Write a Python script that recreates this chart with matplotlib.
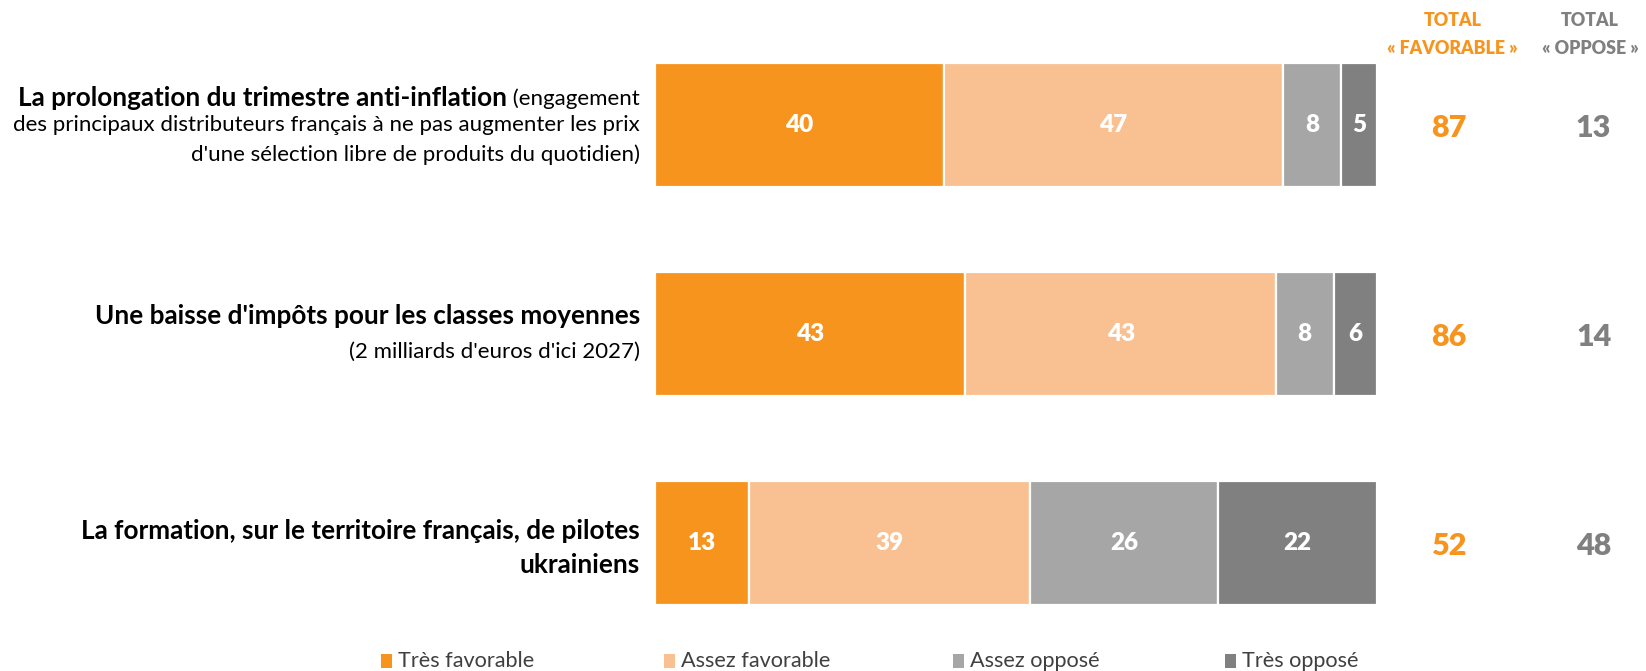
import matplotlib
matplotlib.use("Agg")
import matplotlib.pyplot as plt
from matplotlib.patches import Rectangle
from matplotlib.transforms import offset_copy

plt.rcParams['font.family'] = ['Lato', 'DejaVu Sans']

# ---- data ----
categories = [
    "La prolongation du trimestre anti-inflation",
    "Une baisse d'impôts pour les classes moyennes",
    "La formation, sur le territoire français, de pilotes ukrainiens",
]
series_names = ["Très favorable", "Assez favorable", "Assez opposé", "Très opposé"]
tres_favorable = [40, 43, 13]
assez_favorable = [47, 43, 39]
assez_oppose = [8, 8, 26]
tres_oppose = [5, 6, 22]
colors = ["#F7941D", "#F9C192", "#A6A6A6", "#808080"]

# label lines: list of lines, each line a list of (text, bold)
label_lines = [
    [[("La prolongation du trimestre anti-inflation", True), (" (engagement", False)],
     [("des principaux distributeurs français à ne pas augmenter les prix", False)],
     [("d'une sélection libre de produits du quotidien)", False)]],
    [[("Une baisse d'impôts pour les classes moyennes", True)],
     [("(2 milliards d'euros d'ici 2027)", False)]],
    [[("La formation, sur le territoire français, de pilotes", True)],
     [("ukrainiens", True)]],
]
line_offsets_px = [[-27, 0, 29], [-18, 18], [-12, 22]]

W, H = 1646, 671
fig = plt.figure(figsize=(W / 100, H / 100), dpi=100)
ax = fig.add_axes([655 / W, 0.004, 722 / W, 0.996])
ax.set_xlim(0, 100)
ax.set_ylim(2.6, -0.6)
ax.axis('off')

series = [tres_favorable, assez_favorable, assez_oppose, tres_oppose]
ypos = list(range(len(categories)))
left = [0] * len(categories)
for vals, col in zip(series, colors):
    bars = ax.barh(ypos, vals, left=left, height=0.595, color=col,
                   edgecolor='white', linewidth=1.6)
    for b, v in zip(bars, vals):
        ax.text(b.get_x() + b.get_width() / 2, b.get_y() + b.get_height() / 2,
                f"{v}", ha='center', va='center', color='white',
                fontsize=17.5, fontweight='heavy')
    left = [l + v for l, v in zip(left, vals)]

# totals
fav_x, opp_x = 110.0, 130.0
for i in ypos:
    tf = tres_favorable[i] + assez_favorable[i]
    to = assez_oppose[i] + tres_oppose[i]
    ax.text(fav_x, i + 0.015, f"{tf}", ha='center', va='center', color='#F7941D',
            fontsize=22, fontweight='heavy', clip_on=False)
    ax.text(opp_x, i + 0.015, f"{to}", ha='center', va='center', color='#808080',
            fontsize=22, fontweight='heavy', clip_on=False)

hy1, hy2 = -0.5, -0.368
for x, c, t2 in [(fav_x + 0.5, '#F7941D', "« FAVORABLE »"),
                 (opp_x - 0.5, '#808080', "« OPPOSE »")]:
    ax.text(x, hy1, "TOTAL", ha='center', va='center', color=c,
            fontsize=12.8, fontweight='heavy', clip_on=False)
    ax.text(x, hy2, t2, ha='center', va='center', color=c,
            fontsize=12.8, fontweight='heavy', clip_on=False)

# category labels (right-aligned, mixed weights)
renderer = fig.canvas.get_renderer()
label_x = -2.1
for i, lines in enumerate(label_lines):
    for line, off in zip(lines, line_offsets_px[i]):
        shift = 0.0
        for txt, bold in reversed(line):
            tr = offset_copy(ax.transData, fig=fig, x=-shift, y=-off, units='dots')
            t = ax.text(label_x, i, txt, ha='right', va='center', color='black',
                        fontsize=18.8 if bold else 16.0,
                        fontweight='bold' if bold else 'normal',
                        transform=tr, clip_on=False)
            shift += t.get_window_extent(renderer=renderer).width

# legend (manual placement)
leg_x = [381, 664, 953, 1225]
leg_y = 661
for name, col, x in zip(series_names, colors, leg_x):
    fig.add_artist(Rectangle((x / W, 1 - (leg_y + 7) / H), 11 / W, 14 / H,
                             transform=fig.transFigure, facecolor=col, edgecolor='none'))
    fig.text((x + 17) / W, 1 - leg_y / H, name, ha='left', va='center',
             fontsize=15.6, color='#404040')

fig.savefig("out.png", dpi=100)
